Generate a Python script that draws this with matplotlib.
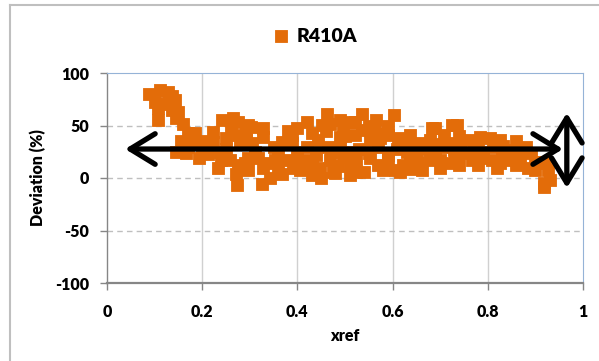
import matplotlib
matplotlib.use("Agg")
import matplotlib.pyplot as plt
from matplotlib.patches import FancyArrowPatch, ArrowStyle
from matplotlib.lines import Line2D

plt.rcParams['font.family'] = ['Lato', 'DejaVu Sans']
plt.rcParams['font.weight'] = 'bold'
plt.rcParams['axes.unicode_minus'] = False

series_name = "R410A"
xref = [0.088, 0.111, 0.128, 0.137, 0.101, 0.122, 0.143, 0.107, 0.107, 0.137,
        0.149, 0.145, 0.160, 0.170, 0.185, 0.155, 0.179, 0.200, 0.145, 0.193,
        0.166, 0.223, 0.223, 0.242, 0.265, 0.275, 0.250, 0.275, 0.292, 0.292,
        0.212, 0.237, 0.233, 0.258, 0.275, 0.271, 0.273, 0.290, 0.296, 0.303,
        0.328, 0.328, 0.305, 0.368, 0.389, 0.389, 0.420, 0.431, 0.443, 0.462,
        0.452, 0.468, 0.489, 0.496, 0.511, 0.489, 0.464, 0.296, 0.296, 0.317,
        0.334, 0.328, 0.342, 0.326, 0.368, 0.353, 0.378, 0.399, 0.391, 0.405,
        0.420, 0.431, 0.447, 0.450, 0.468, 0.485, 0.475, 0.496, 0.511, 0.511,
        0.521, 0.521, 0.536, 0.536, 0.553, 0.565, 0.561, 0.574, 0.590, 0.590,
        0.603, 0.611, 0.637, 0.653, 0.679, 0.689, 0.708, 0.725, 0.731, 0.523,
        0.523, 0.540, 0.553, 0.569, 0.590, 0.605, 0.622, 0.616, 0.637, 0.653,
        0.662, 0.679, 0.700, 0.716, 0.731, 0.735, 0.742, 0.763, 0.784, 0.805,
        0.826, 0.832, 0.767, 0.788, 0.809, 0.826, 0.847, 0.868, 0.884, 0.899,
        0.918, 0.926, 0.931, 0.918, 0.683,
        0.21, 0.25, 0.28, 0.26, 0.31, 0.35, 0.36, 0.40, 0.42, 0.44,
        0.47, 0.49, 0.51, 0.53, 0.55, 0.57, 0.59, 0.61, 0.63, 0.65,
        0.67, 0.69, 0.71, 0.73, 0.75, 0.77, 0.79, 0.81, 0.83, 0.85,
        0.87, 0.89, 0.40, 0.38, 0.46, 0.50, 0.55, 0.58, 0.63, 0.70,
        0.66, 0.74, 0.78, 0.86, 0.88, 0.36, 0.43, 0.48, 0.58, 0.64,
        0.70, 0.74, 0.78, 0.82, 0.86, 0.90, 0.92, 0.24, 0.20, 0.17]
deviation = [80.0, 83.8, 81.9, 78.1, 72.4, 70.5, 74.3, 66.7, 55.2, 64.8,
             62.9, 57.1, 51.4, 42.9, 42.9, 35.2, 35.2, 35.2, 24.8, 19.0,
             23.8, 43.8, 34.3, 55.2, 57.1, 53.3, 38.1, 41.0, 36.2, 45.7,
             22.9, 24.8, 9.5, 17.1, 12.4, 3.8, -6.7, 14.3, 50.5, 48.6,
             47.6, 39.0, 33.3, 34.3, 41.0, 33.3, 53.3, 42.9, 36.2, 61.0,
             50.5, 51.4, 55.2, 47.6, 53.3, 39.0, 29.5, 19.0, 7.6, 19.0,
             14.3, 9.5, 0.0, -5.7, 3.8, 17.1, 17.1, 14.3, 9.5, 7.6,
             17.1, 11.4, 9.5, 0.0, 17.1, 11.4, 5.7, 20.0, 12.4, 2.9,
             53.3, 41.0, 61.0, 45.7, 36.2, 55.2, 45.7, 38.1, 49.5, 41.0,
             60.0, 38.1, 41.0, 31.4, 36.2, 47.6, 41.0, 50.5, 33.3, 17.1,
             5.7, 5.7, 19.0, 12.4, 17.1, 7.6, 12.4, 5.7, 17.1, 15.2,
             7.6, 17.1, 17.1, 14.3, 22.9, 50.5, 33.3, 36.2, 39.0, 38.1,
             36.2, 30.5, 17.1, 19.0, 17.1, 14.3, 17.1, 19.0, 9.5, 7.6,
             -4.8, 7.6, -1.9, -8.6, 47.6,
             30, 28, 32, 47, 25, 30, 22, 25, 30, 22,
             25, 30, 25, 28, 24, 30, 22, 28, 25, 22,
             28, 25, 30, 27, 24, 28, 25, 30, 24, 27,
             26, 24, 48, 45, 45, 40, 50, 43, 35, 32,
             33, 40, 33, 35, 30, 8, 3, 5, 8, 9,
             10, 12, 12, 10, 12, 15, 14, 17, 27, 30]

x_ticks = [0, 0.2, 0.4, 0.6, 0.8, 1]
x_tick_labels = ["0", "0.2", "0.4", "0.6", "0.8", "1"]
y_ticks = [-100, -50, 0, 50, 100]

# arrow annotations (data units)
h_arrow_x = [0.038, 0.958]
h_arrow_y = 27.6
v_arrow_x = 0.966
v_arrow_y = [62, -9.5]

W, H = 599, 361
fig = plt.figure(figsize=(W / 100, H / 100), dpi=100)
ax = fig.add_axes([107 / W, 1 - 283 / H, (583 - 107) / W, (283 - 73) / H])

orange = '#E36C09'
ax.scatter(xref, deviation, marker='s', s=64, color=orange, edgecolors=orange,
           linewidths=0.6, zorder=3, label=series_name)

ax.set_xlim(0, 1)
ax.set_ylim(-100, 100)
ax.set_xticks(x_ticks)
ax.set_xticklabels(x_tick_labels)
ax.set_yticks(y_ticks)
ax.tick_params(axis='both', labelsize=11.5, direction='out', length=5,
               color='#868686', width=1)
ax.tick_params(axis='x', pad=10)
ax.tick_params(axis='y', pad=8)
for lab in ax.get_xticklabels() + ax.get_yticklabels():
    lab.set_fontweight('heavy')

for x in [0.2, 0.4, 0.6, 0.8]:
    ax.axvline(x, color='#D0D0D0', lw=1, zorder=1)
for y in [-50, 0, 50]:
    ax.axhline(y, color='#BFBFBF', lw=1, ls=(0, (4, 3)), zorder=1)

ax.spines['left'].set_color('#868686')
ax.spines['bottom'].set_color('#868686')
ax.spines['bottom'].set_linewidth(1.6)
ax.spines['left'].set_linewidth(1.0)
ax.spines['top'].set_color('#95B3D7')
ax.spines['right'].set_color('#95B3D7')

ax.set_xlabel('xref', fontsize=11.5, fontweight='heavy', labelpad=6)
ax.set_ylabel('Deviation (%)', fontsize=11.5, fontweight='heavy', labelpad=6)

style = ArrowStyle('<->', head_length=0.9, head_width=0.55)
ha = FancyArrowPatch((h_arrow_x[0], h_arrow_y), (h_arrow_x[1], h_arrow_y),
                     arrowstyle=style, mutation_scale=20, color='black',
                     lw=3.8, capstyle='round', joinstyle='round',
                     shrinkA=0, shrinkB=0, zorder=5, clip_on=False)
ax.add_patch(ha)
va = FancyArrowPatch((v_arrow_x, v_arrow_y[0]), (v_arrow_x, v_arrow_y[1]),
                     arrowstyle=style, mutation_scale=20, color='black',
                     lw=3.8, capstyle='round', joinstyle='round',
                     shrinkA=0, shrinkB=0, zorder=5, clip_on=False)
ax.add_patch(va)

leg = ax.legend(loc='center', bbox_to_anchor=(314 / W, 1 - 36 / H),
                bbox_transform=fig.transFigure, frameon=False,
                prop={'family': ['Lato', 'DejaVu Sans'], 'weight': 'heavy', 'size': 14},
                handletextpad=0.3, markerscale=1.0, handlelength=1.0)

# outer chart frame
fig.add_artist(Line2D([10 / W, 1.0], [1 - 5 / H, 1 - 5 / H], transform=fig.transFigure,
                      color='#BFBFBF', lw=1.5))
fig.add_artist(Line2D([10 / W, 10 / W], [0, 1 - 5 / H], transform=fig.transFigure,
                      color='#BFBFBF', lw=1.5))

fig.savefig('out.png', dpi=100)
